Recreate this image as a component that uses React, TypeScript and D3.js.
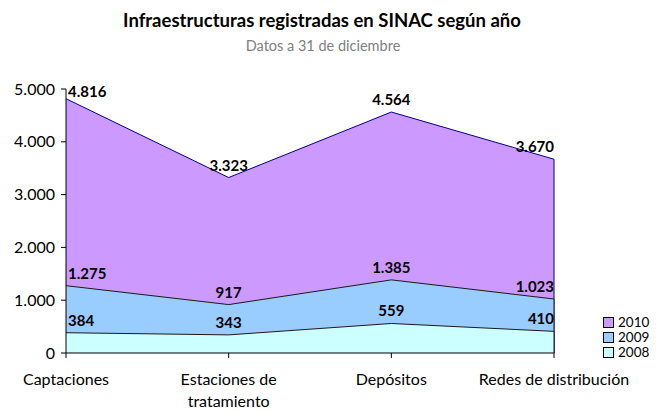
import React from "react";
import * as d3 from "d3";

const categories = ["Captaciones", "Estaciones de\ntratamiento", "Depósitos", "Redes de distribución"];
const years = ["2010", "2009", "2008"];
const values2010 = [4816, 3323, 4564, 3670];
const values2009 = [1275, 917, 1385, 1023];
const values2008 = [384, 343, 559, 410];
const yTicks = [0, 1000, 2000, 3000, 4000, 5000];

const seriesList = [
  { name: years[0], values: values2010, fill: "#CC99FF", stroke: "#000080" },
  { name: years[1], values: values2009, fill: "#99CCFF", stroke: "#1a1a1a" },
  { name: years[2], values: values2008, fill: "#CCFFFF", stroke: "#1a1a1a" },
];

const W = 657;
const H = 412;
const left = 66;
const right = 554;
const top = 89;
const bottom = 353;
const FONT = "Lato, 'Open Sans', sans-serif";

const fmt = (v: number) => {
  const s = String(v);
  return s.length > 3 ? s.slice(0, s.length - 3) + "." + s.slice(s.length - 3) : s;
};

export default function App() {
  const x = d3.scalePoint<number>().domain(categories.map((_, i) => i)).range([left, right]);
  const y = d3.scaleLinear().domain([0, 5000]).range([bottom, top]);
  const area = d3
    .area<number>()
    .x((_, i) => x(i) as number)
    .y0(y(0))
    .y1((d) => y(d));
  const line = d3
    .line<number>()
    .x((_, i) => x(i) as number)
    .y((d) => y(d));

  return (
    <svg width={W} height={H} style={{ position: "absolute", left: 0, top: 0 }} fontFamily={FONT}>
      <rect width={W} height={H} fill="#fff" />
      <text x={322} y={27} textAnchor="middle" fontSize={18.5} fontWeight="bold" fill="#000">
        Infraestructuras registradas en SINAC según año
      </text>
      <text x={323} y={51} textAnchor="middle" fontSize={14.5} fill="#808080">
        Datos a 31 de diciembre
      </text>

      {seriesList.map((s) => (
        <g key={s.name}>
          <path d={area(s.values) || ""} fill={s.fill} />
          <path d={line(s.values) || ""} fill="none" stroke={s.stroke} strokeWidth={1} />
          <line
            x1={right}
            x2={right}
            y1={y(0)}
            y2={y(s.values[s.values.length - 1])}
            stroke={s.stroke}
            strokeWidth={1}
          />
        </g>
      ))}

      {/* axes */}
      <line x1={left} x2={left} y1={top} y2={bottom} stroke="#000" />
      <line x1={left} x2={right} y1={bottom} y2={bottom} stroke="#000" />
      {yTicks.map((t) => (
        <g key={t}>
          <line x1={left - 5} x2={left} y1={y(t)} y2={y(t)} stroke="#000" />
          <text x={left - 11} y={y(t) + 5.5} textAnchor="end" fontSize={16} fill="#000">
            {fmt(t)}
          </text>
        </g>
      ))}
      {categories.map((c, i) => (
        <g key={c}>
          <line x1={x(i)} x2={x(i)} y1={bottom} y2={bottom + 5} stroke="#000" />
          {c.split("\n").map((ln, j) => (
            <text key={j} x={x(i)} y={385 + j * 22} textAnchor="middle" fontSize={16} fill="#000">
              {ln}
            </text>
          ))}
        </g>
      ))}

      {/* data labels */}
      {seriesList.map((s) =>
        s.values.map((v, i) => {
          const px = x(i) as number;
          const anchor = i === 0 ? "start" : i === categories.length - 1 ? "end" : "middle";
          const lx = i === 0 ? px + 2 : px;
          return (
            <text
              key={s.name + i}
              x={lx}
              y={Math.max(y(v) - 7, 97)}
              textAnchor={anchor}
              fontSize={15}
              fontWeight="bold"
              fill="#000"
            >
              {fmt(v)}
            </text>
          );
        })
      )}

      {/* legend */}
      {seriesList.map((s, i) => (
        <g key={s.name}>
          <rect x={603.5} y={317.5 + i * 15} width={10} height={10} fill={s.fill} stroke="#000" />
          <text x={618} y={327 + i * 15} fontSize={13.5} fill="#000">
            {s.name}
          </text>
        </g>
      ))}
    </svg>
  );
}
